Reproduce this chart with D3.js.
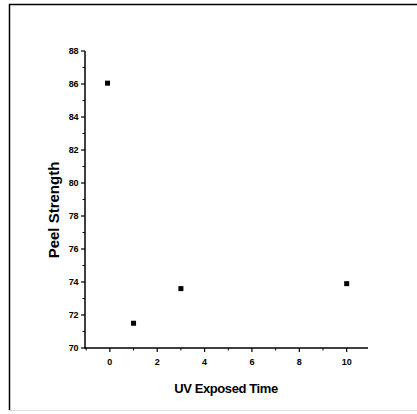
<!DOCTYPE html>
<html>
<head>
<script src="https://d3js.org/d3.v7.min.js"></script>
<style>
  body { margin: 0; background: #fff; }
  text { font-family: "Liberation Sans Narrow", "Liberation Sans", Arial, sans-serif; fill: #000; }
</style>
</head>
<body>
<div id="chart"></div>
<script>
// data
const uvTime = [-0.1, 1, 3, 10];
const peel = [86.05, 71.5, 73.6, 73.9];
const xTicks = [0, 2, 4, 6, 8, 10];
const yTicks = [70, 72, 74, 76, 78, 80, 82, 84, 86, 88];

const width = 417, height = 414;
const svg = d3.select("#chart").append("svg")
    .attr("width", width)
    .attr("height", height);

// frame around the figure
svg.append("path")
    .attr("d", "M9.5,410 V4.5 H417")
    .attr("fill", "none").attr("stroke", "#000").attr("stroke-width", 1.5);
svg.append("line")
    .attr("x1", 9).attr("x2", 417).attr("y1", 410.5).attr("y2", 410.5)
    .attr("stroke", "#ddd");

const x = d3.scaleLinear().domain([-1.05, 10.9]).range([85, 368]);
const y = d3.scaleLinear().domain([70, 88]).range([348, 51]);

// x axis
const gx = svg.append("g").attr("transform", "translate(0,348)");
gx.append("line").attr("x1", x.range()[0]).attr("x2", x.range()[1])
    .attr("stroke", "#000").attr("stroke-width", 1.5);
gx.selectAll(".mj").data(xTicks).enter().append("line")
    .attr("x1", d => x(d)).attr("x2", d => x(d)).attr("y1", 0).attr("y2", 4)
    .attr("stroke", "#000").attr("stroke-width", 1.2);
gx.selectAll(".mn").data(d3.range(-1, 11, 2)).enter().append("line")
    .attr("x1", d => x(d)).attr("x2", d => x(d)).attr("y1", 0).attr("y2", 2.5)
    .attr("stroke", "#000").attr("stroke-width", 1);
gx.selectAll("text").data(xTicks).enter().append("text")
    .attr("x", d => x(d)).attr("y", 17)
    .attr("text-anchor", "middle").attr("font-size", 9).attr("font-weight", "bold")
    .text(d => d);

// y axis
const gy = svg.append("g").attr("transform", "translate(85,0)");
gy.append("line").attr("y1", y.range()[0] + 0.75).attr("y2", y.range()[1])
    .attr("stroke", "#000").attr("stroke-width", 1.5);
gy.selectAll(".mj").data(yTicks).enter().append("line")
    .attr("y1", d => y(d)).attr("y2", d => y(d)).attr("x1", 0).attr("x2", -4)
    .attr("stroke", "#000").attr("stroke-width", 1.2);
gy.selectAll(".mn").data(d3.range(71, 88, 2)).enter().append("line")
    .attr("y1", d => y(d)).attr("y2", d => y(d)).attr("x1", 0).attr("x2", -2.5)
    .attr("stroke", "#000").attr("stroke-width", 1);
gy.selectAll("text").data(yTicks).enter().append("text")
    .attr("x", -7).attr("y", d => y(d)).attr("dy", "0.35em")
    .attr("text-anchor", "end").attr("font-size", 9).attr("font-weight", "bold")
    .attr("letter-spacing", -0.4)
    .text(d => d);

// points
svg.selectAll(".pt").data(uvTime).enter().append("rect")
    .attr("x", d => x(d) - 2.5)
    .attr("y", (d, i) => y(peel[i]) - 2.5)
    .attr("width", 5).attr("height", 5)
    .attr("fill", "#000");

// axis titles
svg.append("text")
    .attr("x", 226).attr("y", 393)
    .attr("text-anchor", "middle").attr("font-size", 13).attr("font-weight", "bold")
    .attr("letter-spacing", -0.4)
    .text("UV Exposed Time");
svg.append("text")
    .attr("transform", "translate(59,210) rotate(-90)")
    .attr("text-anchor", "middle").attr("font-size", 15).attr("font-weight", "bold")
    .text("Peel Strength");
</script>
</body>
</html>
